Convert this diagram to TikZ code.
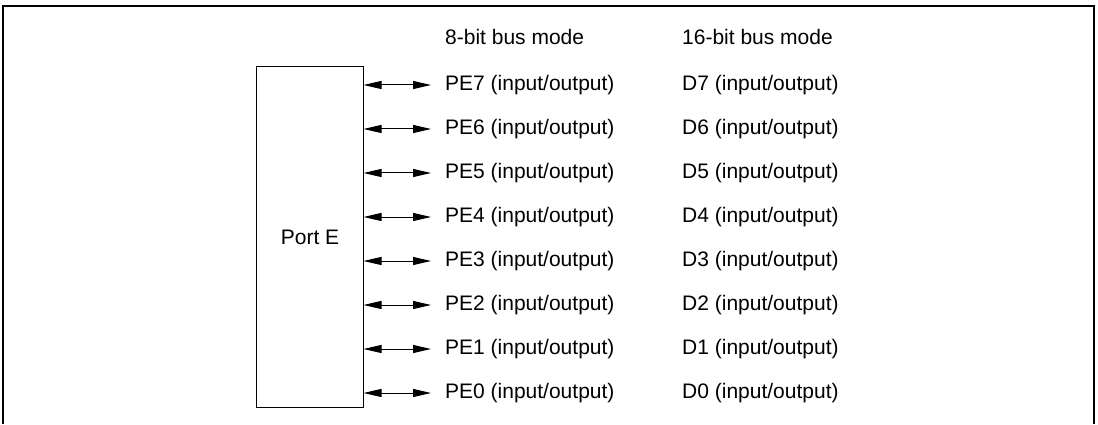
\documentclass[tikz,border=0pt]{standalone}
\usepackage{fontspec}
\setmainfont{Liberation Sans}
\usetikzlibrary{arrows.meta}
\begin{document}
\begin{tikzpicture}[x=1pt,y=-1pt,
  lbl/.style={anchor=west,inner sep=0pt,font=\fontsize{21}{25}\selectfont},
  bidir/.style={line width=1pt,{Triangle[length=18pt,width=8pt]}-{Triangle[length=18pt,width=8pt]}},
  frameline/.style={line width=1.4pt}]
\useasboundingbox (0,0) rectangle (1098,425);
\draw[frameline] (3,424) -- (3,6) -- (1094,6) -- (1094,424);
\node[draw,line width=1.3pt,outer sep=0pt,minimum width=107pt,minimum height=341pt,inner sep=0pt,anchor=north west,
  font=\fontsize{21}{25}\selectfont] (port) at (256.5,66.5) {Port E};
\node[lbl] (h8) at (445,37) {8-bit bus mode};
\node[lbl] (h16) at (682,37) {16-bit bus mode};
\foreach \i/\y in {7/85,6/129,5/173,4/217,3/261,2/305,1/349,0/393}{
  \coordinate (s\i) at (port.east |- 0,\y);
  \node[lbl] (pe\i) at (445,\y) {PE\i\ (input/output)};
  \node[lbl] (d\i) at (682,\y) {D\i\ (input/output)};
  \draw[bidir] (s\i) -- ([xshift=-14pt]pe\i.west);
}
\end{tikzpicture}
\end{document}
